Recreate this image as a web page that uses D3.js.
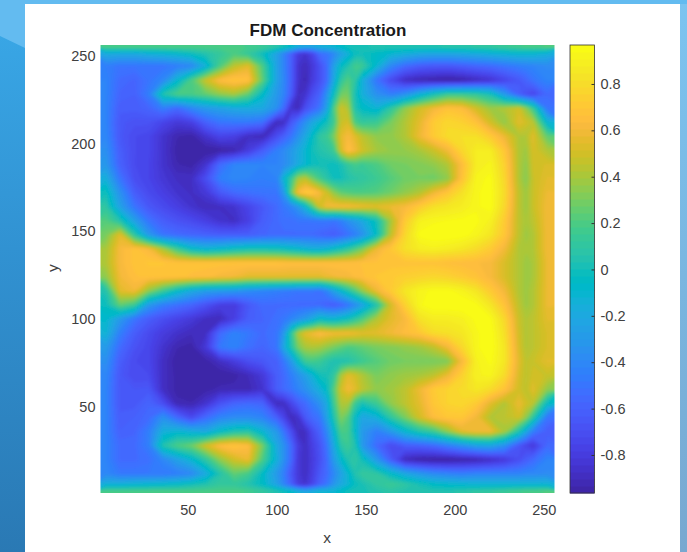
<!DOCTYPE html>
<html>
<head>
<meta charset="utf-8">
<script src="https://cdn.jsdelivr.net/npm/d3@7"></script>
<style>
  html, body { margin: 0; padding: 0; background: #fff; }
  svg { display: block; }
  text { font-family: "Liberation Sans", Arial, sans-serif; }
</style>
</head>
<body>
<div id="vis-container"></div>
<script>
const xLevels = [4,12,20,28,36,44,52,60,68,76,84,92,100,104,108,112,116,120,124,128,132,136,140,144,148,156,164,172,180,188,196,204,212,220,228,236,240,244,252];
const yLevels = [255,251,244,236,228,220,212,204,196,188,180,172,164,156,148,140,132,124,116,108,100,92,84,76,68,60,52,44,36,28,20,12,6,2];

// One row per entry of yLevels, one value per entry of xLevels
const concentration = [
[.2,.2,.2,.2,.2,.2,.2,.2,.2,.2,.18,.15, .08,.02,-.05,-.15,-.2,-.2,-.15,-.12,-.1,-.05,0,.02,.02, .05,.05,.05,.05,.05,.08,.08,.1,.12,.15,.18,.19,.2,.22],
[-.18,-.2,-.2,-.15,-.12,-.08,-.02,.05,.12,.2,.12,-.02, -.25,-.42,-.6,-.8,-.85,-.75,-.55,-.5,-.4,-.25,-.15,-.02,0, -.05,-.1,-.15,-.2,-.22,-.22,-.2,-.18,-.15,-.12,-.1,-.1,-.1,-.15],
[-.45,-.5,-.5,-.5,-.5,-.45,-.4,-.15,.2,.45,.55,.2, -.25,-.42,-.6,-.85,-.9,-.82,-.7,-.55,-.25,-.05,.05,.18,.15, -.1,-.4,-.55,-.62,-.65,-.65,-.62,-.58,-.55,-.5,-.45,-.43,-.42,-.38],
[-.42,-.55,-.58,-.5,-.4,-.1,.2,.48,.65,.7,.68,.25, -.25,-.4,-.6,-.85,-.92,-.8,-.7,-.55,-.2,.1,.22,.1,-.15, -.5,-.72,-.88,-.93,-.95,-.97,-.95,-.9,-.85,-.75,-.65,-.58,-.5,-.42],
[-.42,-.58,-.6,-.45,.05,.2,.2,.25,.35,.4,.25,-.05, -.3,-.42,-.62,-.88,-.85,-.7,-.6,-.35,-.02,.28,.3,.02,-.15, -.35,-.45,-.35,-.15,.02,.15,.15,.12,.02,-.3,-.6,-.7,-.75,-.55],
[-.42,-.62,-.62,-.58,-.45,-.55,-.4,-.3,-.25,-.2,-.18,-.2, -.35,-.55,-.85,-.9,-.7,-.6,-.5,-.25,.2,.5,.42,.05,-.05, -.12,.1,.35,.5,.6,.68,.65,.5,.38,.42,.5,.35,.15,-.5],
[-.42,-.65,-.68,-.68,-.75,-.82,-.78,-.6,-.5,-.48,-.48,-.52, -.9,-.88,-.65,-.5,-.35,-.2,-.1,0,.15,.48,.52,.2,.12, .15,.3,.42,.55,.72,.78,.75,.68,.5,.35,.55,.5,.45,-.1],
[-.4,-.65,-.72,-.74,-.85,-.93,-.95,-.85,-.75,-.78,-.88,-.92, -.7,-.6,-.5,-.35,-.2,-.05,.1,.15,.3,.55,.62,.55,.45, .35,.35,.42,.58,.72,.8,.82,.82,.72,.58,.42,.42,.55,.25],
[-.35,-.62,-.72,-.74,-.85,-.95,-.97,-.97,-.96,-.93,-.8,-.62, -.45,-.38,-.3,-.2,-.1,0,.05,.08,.15,.5,.68,.6,.5, .4,.36,.36,.4,.48,.6,.78,.88,.88,.7,.42,.38,.52,.42],
[-.3,-.6,-.72,-.75,-.85,-.93,-.95,-.85,-.55,-.42,-.4,-.42, -.42,-.38,-.3,-.18,-.1,-.02,0,0,-.02,.02,.12,.18,.15, .2,.28,.3,.32,.35,.42,.65,.88,.92,.75,.42,.35,.5,.52],
[-.15,-.5,-.7,-.75,-.83,-.88,-.88,-.7,-.45,-.4,-.42,-.45, -.42,-.1,.12,.4,.45,.3,.18,.08,0,0,.05,.08,.1, .15,.22,.28,.3,.28,.35,.68,.92,.95,.78,.42,.33,.48,.55],
[0,-.35,-.62,-.72,-.78,-.85,-.88,-.82,-.65,-.55,-.52,-.5, -.5,-.3,.25,.62,.72,.72,.62,.5,.35,.25,.22,.2,.2, .22,.28,.35,.42,.58,.7,.82,.93,.96,.8,.45,.38,.48,.58],
[.1,-.25,-.5,-.65,-.72,-.78,-.85,-.9,-.88,-.85,-.75,-.65, -.55,-.48,-.42,-.3,-.1,.2,.5,.6,.62,.62,.62,.6,.58, .55,.58,.62,.72,.82,.85,.88,.93,.96,.78,.45,.38,.48,.6],
[.22,.05,-.25,-.5,-.62,-.68,-.72,-.78,-.85,-.88,-.78,-.62, -.55,-.52,-.52,-.5,-.5,-.5,-.48,-.48,-.5,-.45,-.35,-.28,-.2, 0,.4,.72,.9,.93,.94,.95,.95,.9,.72,.45,.4,.45,.6],
[.3,.55,.1,-.3,-.5,-.55,-.58,-.6,-.62,-.62,-.62,-.58, -.55,-.55,-.55,-.55,-.55,-.55,-.58,-.6,-.62,-.58,-.52,-.45,-.35, -.05,.45,.78,.95,.97,.97,.96,.92,.85,.7,.45,.38,.42,.6],
[.4,.62,.68,.62,.4,.15,-.05,-.12,-.08,-.02,.02,.02, 0,-.02,-.05,-.08,-.12,-.15,-.15,-.12,-.05,.02,.1,.2,.3, .58,.7,.82,.88,.9,.88,.85,.8,.72,.6,.42,.4,.42,.6],
[.42,.62,.68,.7,.7,.68,.68,.68,.68,.68,.68,.68, .68,.67,.66,.66,.66,.66,.66,.66,.66,.66,.66,.66,.67, .67,.68,.68,.68,.68,.66,.65,.64,.62,.52,.42,.38,.4,.58],
[.35,.6,.66,.68,.68,.68,.66,.65,.62,.6,.55,.55, .55,.55,.55,.55,.55,.55,.55,.58,.6,.61,.62,.64,.66, .7,.72,.74,.76,.78,.76,.72,.68,.62,.52,.42,.38,.4,.58],
[.05,.55,.6,.35,.15,-.05,-.2,-.28,-.3,-.32,-.38,-.42, -.45,-.47,-.48,-.5,-.5,-.5,-.52,-.42,-.25,-.1,.05,.2,.35, .58,.72,.85,.92,.95,.95,.92,.85,.72,.6,.42,.38,.42,.58],
[-.02,.25,.15,-.3,-.45,-.52,-.58,-.68,-.78,-.8,-.65,-.55, -.55,-.55,-.55,-.55,-.55,-.55,-.55,-.6,-.62,-.58,-.5,-.38,-.25, .05,.5,.75,.93,.97,.97,.97,.95,.85,.68,.45,.38,.42,.58],
[-.08,-.3,-.5,-.62,-.7,-.76,-.82,-.88,-.9,-.78,-.62,-.58, -.52,-.48,-.42,-.35,-.28,-.18,-.05,-.08,-.1,-.05,0,.1,.2, .42,.55,.62,.82,.88,.88,.9,.95,.95,.78,.48,.42,.45,.55],
[-.12,-.45,-.62,-.72,-.8,-.86,-.9,-.88,-.55,-.42,-.48,-.55, -.5,-.3,.1,.42,.55,.6,.65,.62,.6,.6,.6,.58,.55, .55,.6,.65,.7,.8,.82,.85,.93,.97,.82,.5,.42,.45,.52],
[-.28,-.55,-.68,-.74,-.85,-.93,-.95,-.82,-.48,-.42,-.52,-.58, -.5,-.2,.05,.3,.4,.42,.4,.35,.3,.25,.2,.22,.25, .3,.32,.35,.38,.45,.6,.78,.93,.97,.85,.52,.42,.45,.52],
[-.35,-.62,-.72,-.74,-.88,-.96,-.97,-.95,-.88,-.8,-.7,-.65, -.6,-.48,-.3,-.05,.15,.18,.15,.08,.03,.03,.05,.1,.15, .22,.28,.3,.3,.3,.32,.62,.9,.95,.85,.55,.45,.48,.55],
[-.4,-.65,-.72,-.72,-.88,-.95,-.97,-.97,-.97,-.95,-.9,-.82, -.62,-.55,-.45,-.35,-.25,-.12,0,.02,.1,.4,.55,.5,.42, .3,.35,.38,.4,.45,.58,.75,.9,.92,.8,.52,.45,.5,.48],
[-.42,-.65,-.66,-.65,-.88,-.95,-.97,-.95,-.92,-.92,-.92,-.85, -.62,-.55,-.5,-.42,-.35,-.25,-.15,-.05,.22,.5,.6,.55,.45, .35,.38,.45,.58,.72,.76,.8,.85,.8,.68,.5,.45,.55,.35],
[-.42,-.65,-.65,-.58,-.7,-.92,-.93,-.85,-.68,-.58,-.55,-.58, -.9,-.88,-.75,-.62,-.55,-.45,-.35,-.2,.15,.42,.42,.15,.02, .15,.35,.45,.55,.7,.76,.78,.72,.55,.42,.58,.5,.45,-.05],
[-.42,-.62,-.6,-.55,-.35,-.55,-.72,-.55,-.42,-.38,-.38,-.42, -.6,-.75,-.9,-.85,-.65,-.55,-.5,-.25,.05,.32,.22,-.05,-.22, -.15,.1,.3,.5,.65,.7,.7,.6,.42,.45,.5,.35,.1,-.5],
[-.42,-.6,-.58,-.45,-.15,-.1,-.15,-.2,-.05,.05,.08,-.1, -.3,-.5,-.7,-.88,-.88,-.72,-.6,-.4,-.1,.2,.18,-.05,-.3, -.45,-.3,-.1,.05,.15,.35,.55,.6,.6,.4,.05,-.2,-.45,-.62],
[-.42,-.55,-.55,-.45,.05,.2,.28,.5,.65,.7,.65,.3, -.2,-.35,-.55,-.8,-.88,-.78,-.68,-.5,-.2,.08,.15,.05,-.3, -.55,-.72,-.62,-.6,-.55,-.45,-.35,-.25,-.22,-.35,-.65,-.75,-.82,-.55],
[-.42,-.55,-.55,-.52,-.4,-.25,-.1,.1,.35,.5,.58,.2, -.15,-.35,-.55,-.82,-.88,-.8,-.7,-.55,-.28,-.08,.05,.1,0, -.3,-.62,-.9,-.95,-.97,-.97,-.95,-.93,-.88,-.82,-.7,-.62,-.55,-.42],
[-.4,-.48,-.48,-.48,-.48,-.45,-.4,-.2,.05,.25,.18,-.05, -.3,-.45,-.65,-.82,-.88,-.78,-.65,-.55,-.4,-.25,-.1,.05,.12, .1,-.05,-.2,-.3,-.38,-.42,-.45,-.42,-.42,-.42,-.42,-.4,-.4,-.38],
[-.15,-.15,-.12,-.1,-.08,-.05,0,.05,.12,.12,.05,-.05, -.25,-.42,-.6,-.8,-.85,-.75,-.6,-.5,-.32,-.2,-.12,-.02,.02, .1,.15,.1,.02,-.05,-.08,-.1,-.12,-.12,-.12,-.12,-.12,-.12,-.12],
[.2,.2,.2,.2,.2,.2,.2,.2,.2,.2,.18,.12, .05,0,-.05,-.12,-.2,-.15,-.1,-.1,-.1,-.05,0,.02,.02, .05,.08,.05,.05,.05,.05,.08,.1,.12,.15,.18,.19,.2,.22]
];

const xTicks = [50, 100, 150, 200, 250];
const yTicks = [50, 100, 150, 200, 250];
const colorTicks = [-0.8, -0.6, -0.4, -0.2, 0, 0.2, 0.4, 0.6, 0.8];
const valueRange = [-0.964, 0.968];
const axisRange = [1, 256];

// MATLAB parula, 64 levels
const parula = [[.2422,.1504,.6603],[.2504,.165,.7076],[.2578,.1818,.7511],[.2647,.1978,.7952],[.2706,.2147,.8364],[.2751,.2342,.871],[.2783,.2559,.8991],[.2803,.2782,.9221],[.2813,.3006,.9414],[.281,.3228,.9579],[.2795,.3447,.9717],[.276,.3667,.9829],[.2699,.3892,.9906],[.2602,.4123,.9952],[.244,.4358,.9988],[.2206,.4603,.9973],[.1963,.4847,.9892],[.1834,.5074,.9798],[.1786,.5289,.9682],[.1764,.5499,.952],[.1687,.5703,.9359],[.154,.5902,.9218],[.146,.6091,.9079],[.138,.6276,.8973],[.1248,.6459,.8883],[.1113,.6635,.8763],[.0952,.6798,.8598],[.0689,.6948,.8394],[.0297,.7082,.8163],[.0036,.7203,.7917],[.0067,.7312,.766],[.0433,.7411,.7394],[.0964,.75,.712],[.1408,.7584,.6842],[.1717,.767,.6554],[.1938,.7758,.6251],[.2161,.7843,.5923],[.247,.7918,.5567],[.2906,.7973,.5188],[.3406,.8008,.4789],[.3909,.8029,.4354],[.4456,.8024,.3909],[.5044,.7993,.348],[.5616,.7942,.3045],[.6174,.7876,.2612],[.672,.7793,.2227],[.7242,.7698,.191],[.7738,.7598,.1646],[.8203,.7498,.1535],[.8634,.7406,.1596],[.9035,.733,.1774],[.9393,.7288,.21],[.9728,.7298,.2394],[.9956,.7434,.2371],[.997,.7659,.2199],[.9952,.7893,.2028],[.9892,.8136,.1885],[.9786,.8386,.1766],[.9676,.8639,.1643],[.961,.889,.1537],[.9597,.9135,.1423],[.9628,.9373,.1265],[.9691,.9606,.1064],[.9769,.9839,.0805]]
    .map(c => d3.rgb(c[0] * 255, c[1] * 255, c[2] * 255).formatHex());

let width = 687;
let height = 552;
let plot = { left: 100.5, right: 554.5, top: 45, bottom: 493 };
let bar = { left: 570, right: 594.5 };

let svg = d3.select("#vis-container").append("svg").attr("width", width).attr("height", height);
let defs = svg.append("defs");

// slide background behind the white figure
let leftGrad = defs.append("linearGradient").attr("id", "bgLeft").attr("x1", 0).attr("x2", 0).attr("y1", 0).attr("y2", 1);
leftGrad.append("stop").attr("offset", 0).attr("stop-color", "#3aa9e8");
leftGrad.append("stop").attr("offset", 0.45).attr("stop-color", "#3192d2");
leftGrad.append("stop").attr("offset", 1).attr("stop-color", "#2a79b4");
let rightGrad = defs.append("linearGradient").attr("id", "bgRight").attr("x1", 0).attr("x2", 0).attr("y1", 0).attr("y2", 1);
rightGrad.append("stop").attr("offset", 0).attr("stop-color", "#7cc4f0");
rightGrad.append("stop").attr("offset", 1).attr("stop-color", "#78a8d0");
svg.append("rect").attr("width", 360).attr("height", height).attr("fill", "url(#bgLeft)");
svg.append("rect").attr("x", 360).attr("width", 327).attr("height", height).attr("fill", "url(#bgRight)");
svg.append("path").attr("d", "M0,0H687V4H25V48L0,36Z").attr("fill", "#63bbf0");
svg.append("rect").attr("x", 25).attr("y", 4).attr("width", 655).attr("height", 548).attr("fill", "#fff");

// scales
let xScale = d3.scaleLinear().domain(axisRange).range([plot.left, plot.right]);
let yScale = d3.scaleLinear().domain(axisRange).range([plot.bottom, plot.top]);
let colorScale = d3.scaleQuantize().domain(valueRange).range(parula);
let colorAxisScale = d3.scaleLinear().domain(valueRange).range([plot.bottom, plot.top]);

// contour grid coordinates to pixels; the outer edge runs past the plot so the blur stays opaque at the clip
let gridX = d3.scaleLinear()
    .domain([0].concat(xLevels.map((d, i) => i + 0.5), [xLevels.length]))
    .range([plot.left - 8].concat(xLevels.map(d => xScale(d)), [plot.right + 8]));
let gridY = d3.scaleLinear()
    .domain([0].concat(yLevels.map((d, i) => i + 0.5), [yLevels.length]))
    .range([plot.top - 8].concat(yLevels.map(d => yScale(d)), [plot.bottom + 8]));
let gridPath = d3.geoPath(d3.geoTransform({
    point: function (x, y) { this.stream.point(gridX(x), gridY(y)); }
}));

defs.append("clipPath").attr("id", "plotClip").append("rect")
    .attr("x", plot.left).attr("y", plot.top)
    .attr("width", plot.right - plot.left).attr("height", plot.bottom - plot.top);
defs.append("filter").attr("id", "soften")
    .attr("filterUnits", "userSpaceOnUse").attr("x", 60).attr("y", 10).attr("width", 540).attr("height", 520)
    .append("feGaussianBlur").attr("stdDeviation", 1.8);

// filled iso-bands, one per colormap level
let thresholds = colorScale.thresholds();
let bands = d3.contours().size([xLevels.length, yLevels.length]).thresholds(thresholds)(concentration.flat());

let field = svg.append("g").attr("clip-path", "url(#plotClip)").append("g").attr("filter", "url(#soften)");
field.append("rect")
    .attr("x", plot.left - 8).attr("y", plot.top - 8)
    .attr("width", plot.right - plot.left + 16).attr("height", plot.bottom - plot.top + 16)
    .attr("fill", parula[0]);
field.selectAll("path").data(bands).enter().append("path")
    .attr("d", gridPath)
    .attr("fill", (d, i) => parula[i + 1]);

// axes
let axisG = svg.append("g").attr("class", "axes");
function styleAxis(g) {
    g.select(".domain").remove();
    g.selectAll("text").attr("fill", "#404040").style("font-size", "14.5px").style("font-family", '"Liberation Sans", Arial, sans-serif');
}
axisG.append("g").attr("transform", "translate(0," + plot.bottom + ")")
    .call(d3.axisBottom(xScale).tickValues(xTicks).tickSize(0).tickPadding(12))
    .call(styleAxis);
axisG.append("g").attr("transform", "translate(" + plot.left + ",0)")
    .call(d3.axisLeft(yScale).tickValues(yTicks).tickSize(0).tickPadding(5))
    .call(styleAxis);

// colorbar
let barG = svg.append("g");
barG.selectAll("rect").data(parula).enter().append("rect")
    .attr("x", bar.left).attr("width", bar.right - bar.left)
    .attr("y", d => colorAxisScale(colorScale.invertExtent(d)[1]))
    .attr("height", d => colorAxisScale(colorScale.invertExtent(d)[0]) - colorAxisScale(colorScale.invertExtent(d)[1]) + 0.5)
    .attr("fill", d => d);
barG.append("rect").attr("x", bar.left).attr("y", plot.top)
    .attr("width", bar.right - bar.left).attr("height", plot.bottom - plot.top)
    .attr("fill", "none").attr("stroke", "#333").attr("stroke-width", 0.8);
barG.append("g").attr("transform", "translate(" + bar.right + ",0)")
    .call(d3.axisRight(colorAxisScale).tickValues(colorTicks).tickSizeInner(-3).tickSizeOuter(0).tickPadding(6).tickFormat(d => String(d)))
    .call(styleAxis)
    .call(g => g.selectAll("line").attr("stroke", "#333"));

// labels
axisG.append("text").text("FDM Concentration").attr("x", 328).attr("y", 36)
    .attr("text-anchor", "middle").attr("fill", "#1a1a1a").style("font-size", "17px").style("font-weight", "bold");
axisG.append("text").text("x").attr("x", 327).attr("y", 543)
    .attr("text-anchor", "middle").attr("fill", "#404040").style("font-size", "15.5px");
axisG.append("text").text("y").attr("transform", "translate(58,268) rotate(-90)")
    .attr("text-anchor", "middle").attr("fill", "#404040").style("font-size", "15.5px");
</script>
</body>
</html>
